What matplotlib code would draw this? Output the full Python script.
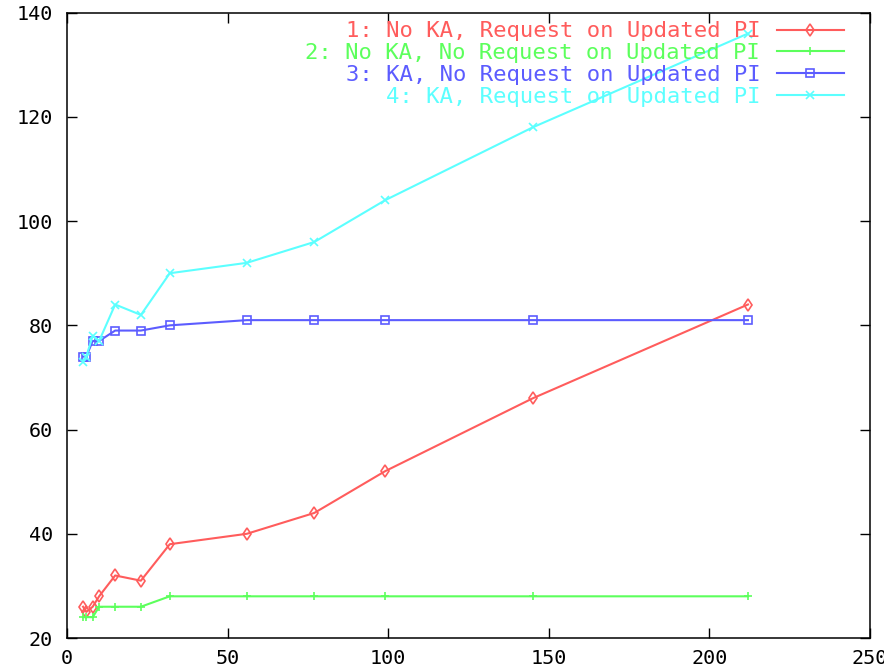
import matplotlib
matplotlib.use("Agg")
import matplotlib.pyplot as plt

x_vals = [5, 6, 8, 10, 15, 23, 32, 56, 77, 99, 145, 212]
s1_vals = [26, 25, 26, 28, 32, 31, 38, 40, 44, 52, 66, 84]
s2_vals = [24, 24, 24, 26, 26, 26, 28, 28, 28, 28, 28, 28]
s3_vals = [74, 74, 77, 77, 79, 79, 80, 81, 81, 81, 81, 81]
s4_vals = [73, 74, 78, 77, 84, 82, 90, 92, 96, 104, 118, 136]
labels = ["1: No KA, Request on Updated PI",
          "2: No KA, No Request on Updated PI",
          "3: KA, No Request on Updated PI",
          "4: KA, Request on Updated PI"]
colors = ["#ff5c5c", "#5cff5c", "#5c5cff", "#5cffff"]
markers = ["d", "+", "s", "x"]
x_ticks = [0, 50, 100, 150, 200, 250]
y_ticks = [20, 40, 60, 80, 100, 120, 140]

plt.rcParams['font.family'] = ['DejaVu Sans Mono']
fs = 14.5
lfs = 16

fig = plt.figure(figsize=(8.84, 6.71), dpi=100)
ax = fig.add_axes([67/884, 33/671, (870-67)/884, (638-12.7)/671])

for ys, lab, c, m in zip([s1_vals, s2_vals, s3_vals, s4_vals], labels, colors, markers):
    mfc = 'none' if m in ('d', 's') else c
    ax.plot(x_vals, ys, color=c, lw=1.5, marker=m, markersize=6,
            markerfacecolor=mfc, markeredgecolor=c, markeredgewidth=1.2, label=lab)

ax.set_xlim(0, 250)
ax.set_ylim(20, 140)
ax.set_xticks(x_ticks)
ax.set_yticks(y_ticks)
ax.tick_params(direction='in', length=7, width=1.0, top=True, right=True,
               labelsize=fs, colors='black')
ax.tick_params(axis='x', pad=8)
ax.tick_params(axis='y', pad=10)
for sp in ax.spines.values():
    sp.set_linewidth(1.1)
    sp.set_color('black')

leg = ax.legend(loc='upper right', bbox_to_anchor=(0.967, 0.986), frameon=False,
                markerfirst=False, fontsize=lfs, handlelength=3.0, handletextpad=0.75,
                labelspacing=0.08, borderpad=0, borderaxespad=0)
for t, c in zip(leg.get_texts(), colors):
    t.set_color(c)

fig.savefig("out.png", dpi=100)
